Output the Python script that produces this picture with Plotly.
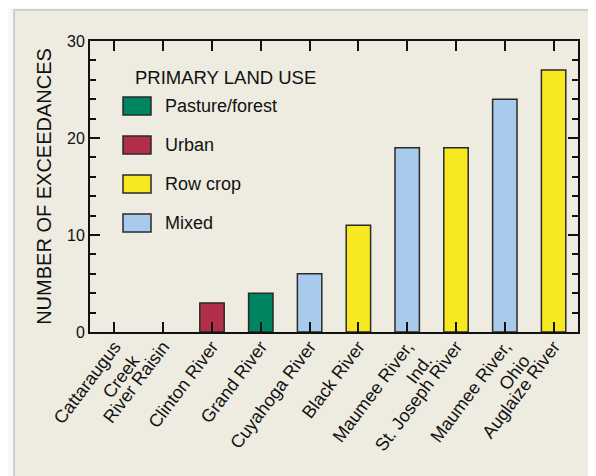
import plotly.graph_objects as go

# stations along the x axis, in plotted order
rivers = ['Cattaraugus<br>Creek', 'River Raisin', 'Clinton River', 'Grand River',
          'Cuyahoga River', 'Black River', 'Maumee River,<br>Ind.', 'St. Joseph River',
          'Maumee River,<br>Ohio', 'Auglaize River']
exceedances = [0, 0, 3, 4, 6, 11, 19, 19, 24, 27]
land_use = ['Row crop', 'Row crop', 'Urban', 'Pasture/forest', 'Mixed', 'Row crop',
            'Mixed', 'Row crop', 'Mixed', 'Row crop']

legend_order = ['Pasture/forest', 'Urban', 'Row crop', 'Mixed']
colors = {'Pasture/forest': '#008563', 'Urban': '#B32E48',
          'Row crop': '#F8E821', 'Mixed': '#A8CAEC'}

FONT = 'Liberation Sans, Arial, Helvetica, sans-serif'

fig = go.Figure()
fig.add_trace(go.Bar(
    x=rivers, y=exceedances,
    marker=dict(color=[colors[u] for u in land_use],
                line=dict(color='#2a2a2a',
                          width=[1.5 if v > 0 else 0 for v in exceedances])),
    width=0.5, showlegend=False))

# plot area as seen in the window; the page body adds an 8px offset
OFF = 8
L, R, T, B = 90, 578, 41, 332
def px(x):
    return (x - L) / (R - L)
def py(y):
    return (B - y) / (B - T)

shapes = [
    # beige panel behind everything
    dict(type='rect', xref='paper', yref='paper', layer='below',
         x0=px(14), x1=px(640), y0=py(10), y1=py(520),
         fillcolor='#EEEBE0', line=dict(color='#CFCFCF', width=2)),
]
annotations = [
    dict(text='PRIMARY LAND USE', x=px(133), y=py(77), xref='paper', yref='paper',
         xanchor='left', yanchor='middle', showarrow=False,
         font=dict(family=FONT, size=18.5, color='#111')),
]
for i, name in enumerate(legend_order):
    yc = 106 + i * 39
    shapes.append(dict(type='rect', xref='paper', yref='paper',
                       x0=px(123), x1=px(151), y0=py(yc - 9), y1=py(yc + 9),
                       fillcolor=colors[name], line=dict(color='#2a2a2a', width=1.5)))
    annotations.append(dict(text=name, x=px(163), y=py(yc), xref='paper', yref='paper',
                            xanchor='left', yanchor='middle', showarrow=False,
                            font=dict(family=FONT, size=18, color='#111')))

fig.update_layout(
    width=596, height=476,
    margin=dict(l=L - OFF, r=596 - (R - OFF), t=T - OFF, b=476 - (B - OFF),
                autoexpand=False),
    paper_bgcolor='#F8F8F8', plot_bgcolor='#FEFCEE',
    font=dict(family=FONT, size=15, color='#111'),
    shapes=shapes, annotations=annotations,
    xaxis=dict(range=[-0.5, 9.5], tickangle=-53, ticks='inside', ticklen=10,
               tickwidth=2, tickcolor='#111', showline=True, linecolor='#111',
               linewidth=2, mirror='allticks', showgrid=False, automargin=False,
               ticklabelstandoff=-5, tickfont=dict(size=18)),
    yaxis=dict(range=[0, 30], dtick=10, ticks='inside', ticklen=10, tickwidth=2,
               tickcolor='#111', showline=True, linecolor='#111', linewidth=2,
               mirror='allticks', showgrid=False, zeroline=False, automargin=False,
               minor=dict(dtick=2, ticks='inside', ticklen=6, tickwidth=1.5,
                          tickcolor='#111'),
               title=dict(text='NUMBER OF EXCEEDANCES', standoff=10,
                          font=dict(size=20)),
               tickfont=dict(size=16)),
)

fig.write_html("out.html")
